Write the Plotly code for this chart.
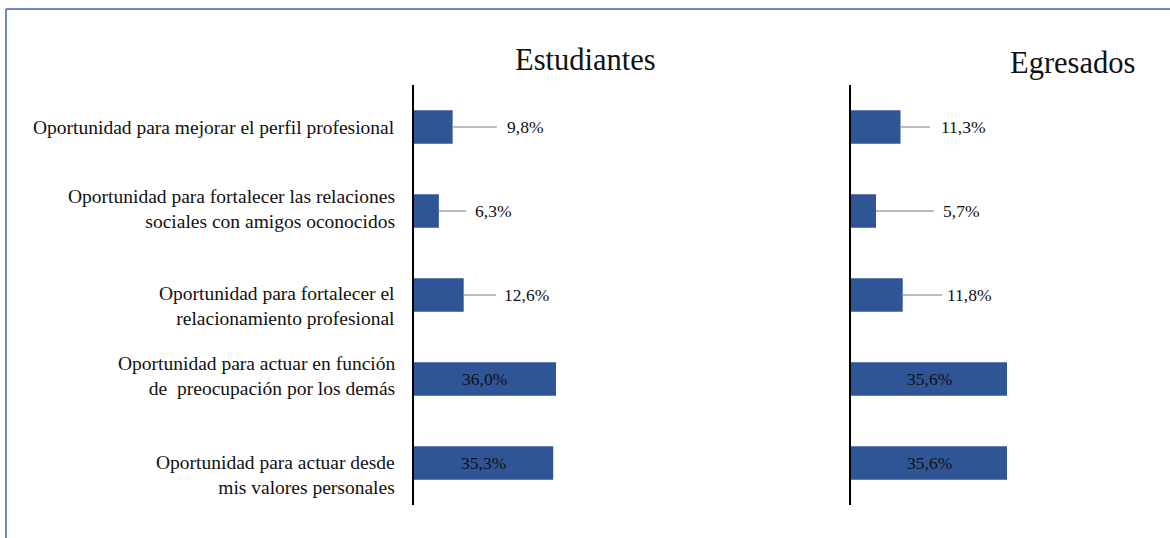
import plotly.graph_objects as go

categories = [
    "Oportunidad para mejorar el perfil profesional",
    "Oportunidad para fortalecer las relaciones<br>sociales con amigos oconocidos",
    "Oportunidad para fortalecer el<br>relacionamiento profesional",
    "Oportunidad para actuar en función<br>de  preocupación por los demás",
    "Oportunidad para actuar desde<br>mis valores personales",
]
estudiantes = [9.8, 6.3, 12.6, 36.0, 35.3]
egresados = [11.3, 5.7, 11.8, 35.6, 35.6]
titles = ["Estudiantes", "Egresados"]

# layout helpers (positions / styles)
W, H = 1170, 538
TOP, BOT = 85, 505
cat_yshift = [0, 2, -11, 3, -12]
est_leader_end = [21.0, 13.2, 20.8]
est_label_x = [23.1, 15.0, 22.3]
egr_leader_end = [18.0, 18.9, 20.8]
egr_label_x = [20.1, 20.5, 21.5]

BAR = "#2F5597"
FONT = "Liberation Serif"
ypos = list(range(len(categories)))


def py(Y):
    return (BOT - Y) / (BOT - TOP)


fig = go.Figure()
fig.add_trace(go.Bar(x=estudiantes, y=ypos, orientation="h", width=0.4,
                     marker=dict(color=BAR, line=dict(width=0)), xaxis="x", yaxis="y",
                     hoverinfo="skip"))
fig.add_trace(go.Bar(x=egresados, y=ypos, orientation="h", width=0.4,
                     marker=dict(color=BAR, line=dict(width=0)), xaxis="x2", yaxis="y2",
                     hoverinfo="skip"))

annotations = []
shapes = []


def fmt(v):
    return f"{v:.1f}".replace(".", ",") + "%"


def add_labels(vals, xr, yr, ends, labx):
    k = 0
    for i, v in enumerate(vals):
        if v > 20:
            annotations.append(dict(x=v / 2, y=i, xref=xr, yref=yr, text=fmt(v),
                                    xanchor="center", yanchor="middle",
                                    showarrow=False, font=dict(family=FONT, size=17.5, color="#111")))
        else:
            shapes.append(dict(type="line", xref=xr, yref=yr, x0=v, x1=ends[k], y0=i, y1=i,
                               line=dict(color="#a6a6a6", width=1.5)))
            annotations.append(dict(x=labx[k], y=i, xref=xr, yref=yr, text=fmt(v), xanchor="left",
                                    yanchor="middle",
                                    showarrow=False, font=dict(family=FONT, size=17.5, color="#111")))
            k += 1


add_labels(estudiantes, "x", "y", est_leader_end, est_label_x)
add_labels(egresados, "x2", "y2", egr_leader_end, egr_label_x)

for i, c in enumerate(categories):
    annotations.append(dict(x=397 / W, y=i, xref="paper", yref="y", text=c, xanchor="right",
                            yanchor="middle", align="right", showarrow=False, yshift=cat_yshift[i],
                            font=dict(family=FONT, size=19.5, color="#111")))

annotations.append(dict(x=585 / W, y=py(60), xref="paper", yref="paper", text=titles[0],
                        xanchor="center", yanchor="middle",
                        showarrow=False, font=dict(family=FONT, size=30.5, color="#111")))
annotations.append(dict(x=1072 / W, y=py(63), xref="paper", yref="paper", text=titles[1],
                        xanchor="center", yanchor="middle",
                        showarrow=False, font=dict(family=FONT, size=30.5, color="#111")))

border = "#3F63AD"
shapes.append(dict(type="line", xref="paper", yref="paper", x0=6 / W, x1=1, y0=py(9), y1=py(9),
                   line=dict(color=border, width=1.5)))
shapes.append(dict(type="line", xref="paper", yref="paper", x0=6 / W, x1=6 / W, y0=py(9), y1=py(H),
                   line=dict(color=border, width=1.5)))

yax = dict(range=[4.5, -0.5], showticklabels=False, showgrid=False, zeroline=False,
           showline=True, linecolor="black", linewidth=1.5, ticks="")
fig.update_layout(
    width=W, height=H,
    margin=dict(l=0, r=0, t=TOP, b=H - BOT),
    paper_bgcolor="white", plot_bgcolor="white",
    showlegend=False,
    xaxis=dict(domain=[414 / W, (414 + 40 * 3.944) / W], range=[0, 40], visible=False),
    xaxis2=dict(domain=[851 / W, (851 + 40 * 4.382) / W], range=[0, 40], visible=False),
    yaxis=dict(anchor="x", **yax),
    yaxis2=dict(anchor="x2", **yax),
    annotations=annotations,
    shapes=shapes,
)
fig.write_html("out.html", config={"displayModeBar": False},
               post_script="document.body.style.margin='0';document.body.style.overflow='hidden';")
